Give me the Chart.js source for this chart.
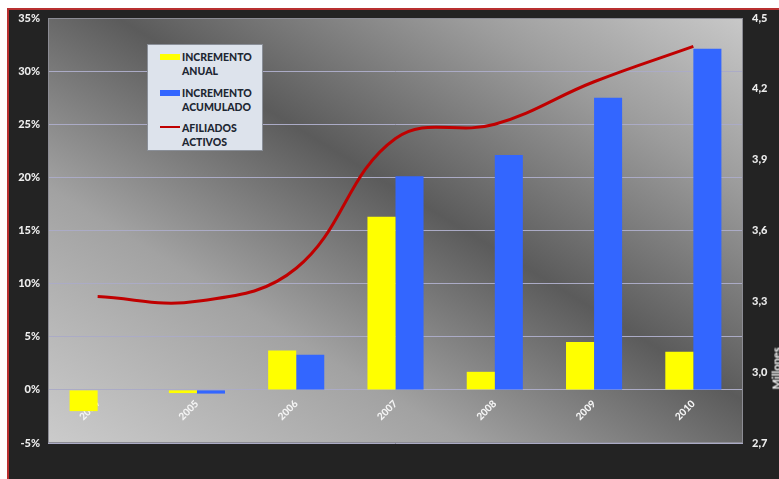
<!DOCTYPE html>
<html>
<head>
<meta charset="utf-8">
<script src="https://cdn.jsdelivr.net/npm/chart.js@4.4.0/dist/chart.umd.min.js"></script>
<style>
  html, body { margin: 0; padding: 0; background: #fff; overflow: hidden; }
  #marco {
    position: absolute; left: 7px; top: 8px; width: 780px; height: 480px;
    background: #232323; border-left: 2px solid #b83030; border-top: 2px solid #b83030;
  }
  #lienzo { position: absolute; left: 0; top: 0; }
  #leyenda {
    position: absolute; left: 147px; top: 44px; width: 114px; height: 105px;
    background: #dde3ec; border: 1px solid #8a8f98;
    font-family: Lato, "Open Sans", sans-serif; font-weight: 900; font-size: 10.5px;
    color: #1d2733; line-height: 14px;
  }
  .item { position: absolute; left: 34px; }
  .muestra { position: absolute; left: 12px; width: 20px; }
  #titulo_der {
    position: absolute; left: 751px; top: 362px; width: 50px; text-align: center;
    transform: rotate(-90deg); transform-origin: center;
    font-family: Lato, sans-serif; font-weight: 900; font-size: 11px; color: #e8e8e8;
  }
</style>
</head>
<body>
<div id="marco"></div>
<canvas id="lienzo" width="779" height="479"></canvas>
<div id="leyenda">
  <div class="muestra" style="top:9px;height:6px;background:#ffff00"></div>
  <div class="item" style="top:5px">INCREMENTO<br>ANUAL</div>
  <div class="muestra" style="top:45px;height:6px;background:#3366ff"></div>
  <div class="item" style="top:41px">INCREMENTO<br>ACUMULADO</div>
  <div class="muestra" style="top:81px;height:2px;background:#c00000"></div>
  <div class="item" style="top:76px">AFILIADOS<br>ACTIVOS</div>
</div>
<div id="titulo_der">Millones</div>

<script>
// datos
var anios = ['2004', '2005', '2006', '2007', '2008', '2009', '2010'];
var incrementoAnual = [-2.0, -0.3, 3.7, 16.3, 1.7, 4.5, 3.6];
var incrementoAcumulado = [0, -0.35, 3.3, 20.1, 22.1, 27.5, 32.1];
var afiliadosActivos = [3.32, 3.30, 3.44, 3.99, 4.05, 4.23, 4.38]; // millones
var ticksIzq = [-5, 0, 5, 10, 15, 20, 25, 30, 35];
var ticksDer = [2.7, 3.0, 3.3, 3.6, 3.9, 4.2, 4.5];

// fondo degradado del area de trazado
var fondoPlot = {
    id: 'fondoPlot',
    beforeDraw: function(chart) {
        var ctx = chart.ctx;
        var a = chart.chartArea;
        var w = a.right - a.left, h = a.bottom - a.top;
        var cx = a.left + w / 2, cy = a.top + h / 2;
        var len = Math.sqrt(w * w + h * h);
        var ux = h / len, uy = -w / len;
        var ext = Math.abs((-w / 2) * ux + (h / 2) * uy);
        var g = ctx.createLinearGradient(cx - ext * ux, cy - ext * uy, cx + ext * ux, cy + ext * uy);
        g.addColorStop(0, '#cbcbcb');
        g.addColorStop(0.3, '#a2a2a2');
        g.addColorStop(0.55, '#5b5b5b');
        g.addColorStop(0.8, '#9c9c9c');
        g.addColorStop(1, '#c8c8c8');
        ctx.save();
        ctx.fillStyle = g;
        ctx.fillRect(a.left, a.top, w, h);
        ctx.restore();
    },
    afterDraw: function(chart) {
        var ctx = chart.ctx;
        var a = chart.chartArea;
        ctx.save();
        ctx.strokeStyle = '#8c8c94';
        ctx.lineWidth = 1;
        ctx.strokeRect(a.left + 0.5, a.top + 0.5, a.right - a.left - 1, a.bottom - a.top - 1);
        ctx.restore();
    }
};

var fuenteEje = { family: 'Lato', size: 11, weight: 900 };

new Chart(document.getElementById('lienzo'), {
    type: 'bar',
    data: {
        labels: anios,
        datasets: [{
            type: 'line',
            label: 'AFILIADOS ACTIVOS',
            data: afiliadosActivos,
            yAxisID: 'y1',
            borderColor: '#c00000',
            borderWidth: 3,
            pointRadius: 0,
            tension: 0.4,
            fill: false,
            order: 0
        }, {
            label: 'INCREMENTO ANUAL',
            data: incrementoAnual,
            yAxisID: 'y',
            backgroundColor: '#ffff00',
            borderWidth: 0,
            order: 1
        }, {
            label: 'INCREMENTO ACUMULADO',
            data: incrementoAcumulado,
            yAxisID: 'y',
            backgroundColor: '#3366ff',
            borderWidth: 0,
            order: 1
        }]
    },
    options: {
        responsive: false,
        animation: false,
        layout: { padding: { top: 18, bottom: 36, left: 0, right: 0 } },
        datasets: { bar: { categoryPercentage: 0.565, barPercentage: 1.0 } },
        plugins: { legend: { display: false }, tooltip: { enabled: false } },
        scales: {
            x: {
                position: { y: 0 },
                offset: true,
                grid: { display: false, drawTicks: false },
                border: { display: false },
                ticks: {
                    color: '#f4f4f4',
                    font: { family: 'Lato', size: 10, weight: 900 },
                    minRotation: 45,
                    maxRotation: 45,
                    autoSkip: false,
                    padding: 8
                }
            },
            y: {
                position: 'left',
                min: -5,
                max: 35,
                afterFit: function(s) { s.width = 48; },
                afterBuildTicks: function(s) { s.ticks = ticksIzq.map(function(v) { return { value: v }; }); },
                grid: { color: '#ababc6', lineWidth: 1, drawTicks: false },
                border: { display: false },
                ticks: {
                    color: '#ececec',
                    font: fuenteEje,
                    padding: 8,
                    callback: function(v) { return v + '%'; }
                }
            },
            y1: {
                position: 'right',
                min: 2.7,
                max: 4.5,
                afterFit: function(s) { s.width = 36; },
                afterBuildTicks: function(s) { s.ticks = ticksDer.map(function(v) { return { value: v }; }); },
                grid: { display: false, drawTicks: false },
                border: { display: false },
                ticks: {
                    color: '#ececec',
                    font: fuenteEje,
                    padding: 9,
                    callback: function(v) { return v.toFixed(1).replace('.', ','); }
                }
            }
        }
    },
    plugins: [fondoPlot]
});
</script>
</body>
</html>
